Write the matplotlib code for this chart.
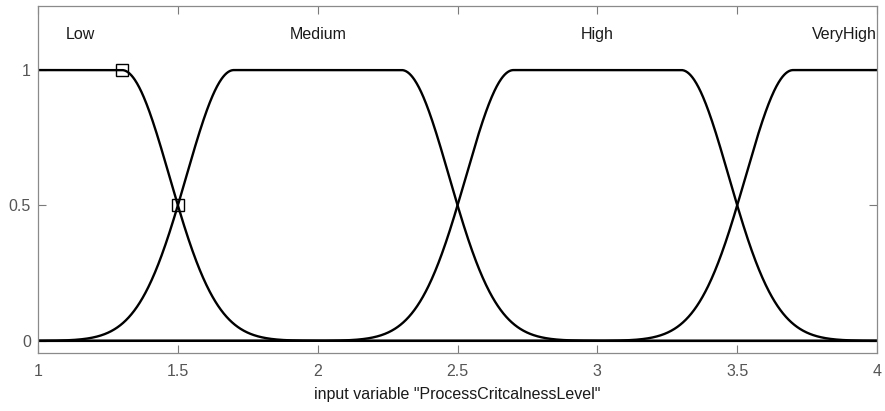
import numpy as np
import matplotlib.pyplot as plt

plt.rcParams['font.family'] = ['Liberation Sans', 'DejaVu Sans']

# membership functions of "ProcessCritcalnessLevel" (gauss2mf: sig1, c1, sig2, c2)
mf_names = ['Low', 'Medium', 'High', 'VeryHigh']
mf_params = [[0.17, 0.0, 0.17, 1.3],
	[0.17, 1.7, 0.17, 2.3],
	[0.17, 2.7, 0.17, 3.3],
	[0.17, 3.7, 0.17, 5.0]]
label_x = [1.1, 2.0, 3.0, 4.0]
label_ha = ['left', 'center', 'center', 'right']
marker_x = [1.3, 1.5]
marker_y = [1.0, 0.5]
x_ticks = [1, 1.5, 2, 2.5, 3, 3.5, 4]
y_ticks = [0, 0.5, 1]


def gauss2mf(x, s1, c1, s2, c2):
	y = np.ones_like(x)
	left = x < c1
	right = x > c2
	y[left] = np.exp(-(x[left] - c1) ** 2 / (2 * s1 ** 2))
	y[right] = y[right] * np.exp(-(x[right] - c2) ** 2 / (2 * s2 ** 2))
	return y


x = np.linspace(1, 4, 1501)
fig, ax = plt.subplots(figsize=(8.85, 4.11), dpi=100)
fig.subplots_adjust(left=0.043, right=0.991, top=0.985, bottom=0.141)

for p, name, lx, ha in zip(mf_params, mf_names, label_x, label_ha):
	ax.plot(x, gauss2mf(x, *p), color='black', lw=1.7)
	ax.text(lx, 1.13, name, ha=ha, va='center', fontsize=11.5, color='#1a1a1a')

ax.plot(marker_x, marker_y, ls='none', marker='s', ms=8.5, mfc='none', mec='black', mew=1.0)

ax.set_xlim(1, 4)
ax.set_ylim(-0.045, 1.236)
ax.set_xticks(x_ticks)
ax.set_xticklabels(['1', '1.5', '2', '2.5', '3', '3.5', '4'])
ax.set_yticks(y_ticks)
ax.set_yticklabels(['0', '0.5', '1'])
ax.tick_params(direction='in', top=True, right=True, length=6, width=0.8,
	colors='#7a7a7a', labelcolor='#555555', labelsize=11.5)
ax.tick_params(axis='y', pad=5)
ax.tick_params(axis='x', pad=8)
for s in ax.spines.values():
	s.set_color('#8a8a8a')
	s.set_linewidth(0.9)
ax.set_xlabel('input variable "ProcessCritcalnessLevel"', fontsize=11.5, color='#1a1a1a', labelpad=6)

fig.savefig('out.png', dpi=100)
